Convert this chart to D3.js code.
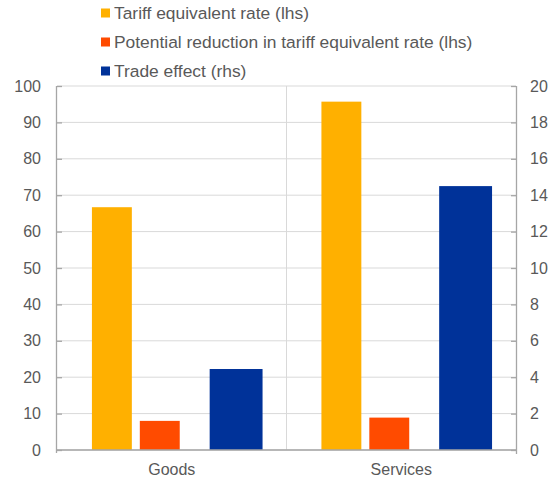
<!DOCTYPE html>
<html>
<head>
<meta charset="utf-8">
<script src="https://cdn.jsdelivr.net/npm/d3@7"></script>
<style>
  body { margin: 0; background: #fff; }
  svg { display: block; font-family: "Liberation Sans", Arial, sans-serif; }
</style>
</head>
<body>
<svg id="chart" width="558" height="480"></svg>
<script>
const categories = ["Goods", "Services"];
const tariffRate = [66.7, 95.7];
const potentialReduction = [8.0, 8.9];
const tradeEffect = [4.45, 14.5];
const leftTicks = [0, 10, 20, 30, 40, 50, 60, 70, 80, 90, 100];
const rightTicks = [0, 2, 4, 6, 8, 10, 12, 14, 16, 18, 20];
const legendLabels = ["Tariff equivalent rate (lhs)", "Potential reduction in tariff equivalent rate (lhs)", "Trade effect (rhs)"];
const colors = ["#FFB000", "#FF4B00", "#003299"];

(function () {
const svg = d3.select("#chart");
const pLeft = 57, pRight = 516, pTop = 86, pBottom = 450;
const textColor = "#595959";
const fontSize = "16px";

const x = d3.scaleBand().domain(categories).range([pLeft, pRight]).padding(0);
const yL = d3.scaleLinear().domain([0, 100]).range([pBottom, pTop]);
const yR = d3.scaleLinear().domain([0, 20]).range([pBottom, pTop]);

// gridlines
svg.append("g").selectAll("line").data(leftTicks).join("line")
  .attr("x1", pLeft).attr("x2", pRight)
  .attr("y1", d => yL(d)).attr("y2", d => yL(d))
  .attr("stroke", "#d9d9d9").attr("stroke-width", 1);

// category separator
svg.append("line")
  .attr("x1", x("Services")).attr("x2", x("Services"))
  .attr("y1", pTop).attr("y2", pBottom)
  .attr("stroke", "#d9d9d9").attr("stroke-width", 1);

// bars
const bw = x.bandwidth();
const series = [
  { vals: tariffRate, scale: yL, off: 35 / 230, w: 40 / 230, color: colors[0] },
  { vals: potentialReduction, scale: yL, off: 83 / 230, w: 40 / 230, color: colors[1] },
  { vals: tradeEffect, scale: yR, off: 153 / 230, w: 53 / 230, color: colors[2] }
];
series.forEach(s => {
  svg.append("g").selectAll("rect").data(categories).join("rect")
    .attr("x", c => x(c) + s.off * bw)
    .attr("width", s.w * bw)
    .attr("y", (c, i) => s.scale(s.vals[i]))
    .attr("height", (c, i) => pBottom - s.scale(s.vals[i]))
    .attr("fill", s.color);
});

// axes
const axisColor = "#a6a6a6";
const gL = svg.append("g").attr("transform", `translate(${pLeft},0)`)
  .call(d3.axisLeft(yL).tickValues(leftTicks).tickSize(-5).tickPadding(16));
const gR = svg.append("g").attr("transform", `translate(${pRight},0)`)
  .call(d3.axisRight(yR).tickValues(rightTicks).tickSize(-5).tickPadding(14));
[gL, gR].forEach(g => {
  g.select(".domain").attr("stroke", axisColor).attr("stroke-width", 1.3);
  g.selectAll(".tick line").attr("stroke", axisColor).attr("stroke-width", 1.3);
  g.selectAll(".tick text").attr("fill", textColor)
    .style("font-size", fontSize).style("font-family", "Liberation Sans, Arial, sans-serif");
});
gL.select(".domain").attr("d", `M-0.5,${pTop}V${pBottom + 3}`);
gR.select(".domain").attr("d", `M0.5,${pTop}V${pBottom + 4}`);

const gB = svg.append("g").attr("transform", `translate(0,${pBottom})`)
  .call(d3.axisBottom(x).tickSize(0).tickPadding(14));
gB.select(".domain").attr("stroke", axisColor).attr("stroke-width", 1.3).attr("d", `M${pLeft},0H${pRight}`);
gB.selectAll(".tick text").attr("fill", textColor)
  .style("font-size", fontSize).style("font-family", "Liberation Sans, Arial, sans-serif");

// legend
const lg = svg.append("g").selectAll("g").data(legendLabels).join("g")
  .attr("transform", (d, i) => `translate(101,${13 + i * 29})`);
lg.append("rect").attr("x", 0).attr("y", -4.5).attr("width", 9).attr("height", 9)
  .attr("fill", (d, i) => colors[i]);
lg.append("text").attr("x", 13).attr("y", 0).attr("dy", "0.35em")
  .attr("fill", textColor).style("font-size", "17.4px").text(d => d);
})();
</script>
</body>
</html>
